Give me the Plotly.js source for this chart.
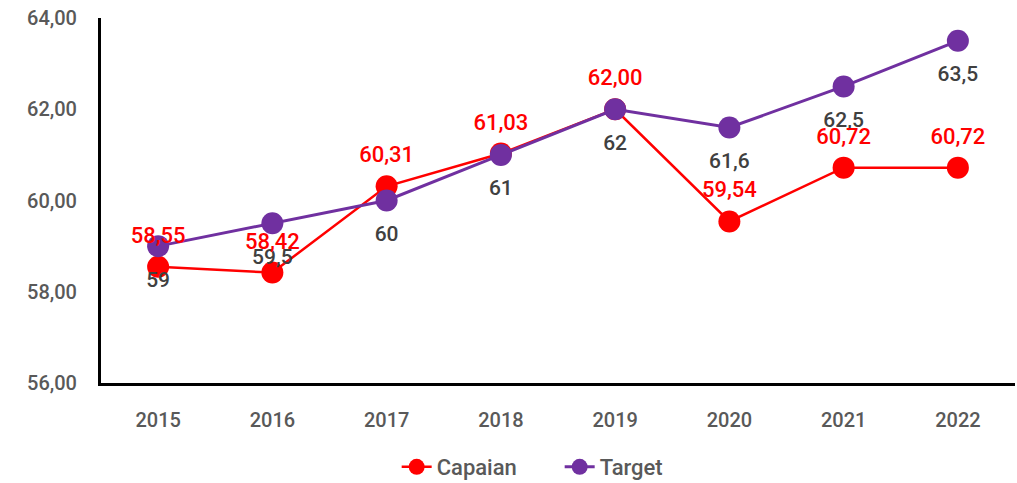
<!DOCTYPE html>
<html><head><meta charset="utf-8">
<script src="https://cdn.plot.ly/plotly-3.0.1.min.js"></script>
<style>html,body{margin:0;padding:0;background:#fff}#c{width:1017px;height:483px}</style>
</head><body><div id="c"></div>
<script>
const years = ['2015','2016','2017','2018','2019','2020','2021','2022'];
const capaian = [58.55, 58.42, 60.31, 61.03, 62.00, 59.54, 60.72, 60.72];
const target = [59, 59.5, 60, 61, 62, 61.6, 62.5, 63.5];
const FONT = 'Roboto, "Noto Sans", sans-serif';
const fmt2 = v => v.toFixed(2).replace('.', ',');
const fmtT = v => String(v).replace('.', ',');
const traces = [
  {x: years, y: capaian, name: 'Capaian', type: 'scatter', mode: 'lines+markers',
   line: {color: '#FF0000', width: 2.5}, marker: {color: '#FF0000', size: 22}, cliponaxis: false},
  {x: years, y: target, name: 'Target', type: 'scatter', mode: 'lines+markers',
   line: {color: '#7030A0', width: 3}, marker: {color: '#7030A0', size: 22}, cliponaxis: false},
  {x: years, y: target, type: 'scatter', mode: 'markers+text', showlegend: false, hoverinfo: 'skip',
   marker: {size: 38, color: 'rgba(0,0,0,0)'},
   text: target.map(fmtT), textposition: 'bottom center',
   textfont: {family: FONT, size: 21, color: '#404040', weight: 500}, cliponaxis: false},
  {x: years, y: capaian, type: 'scatter', mode: 'markers+text', showlegend: false, hoverinfo: 'skip',
   marker: {size: 28, color: 'rgba(0,0,0,0)'},
   text: capaian.map(fmt2), textposition: 'top center',
   textfont: {family: FONT, size: 22, color: '#FF0000', weight: 500}, cliponaxis: false}
];
const layout = {
  width: 1017, height: 483,
  margin: {l: 101, r: 2, t: 18, b: 100},
  paper_bgcolor: '#fff', plot_bgcolor: '#fff',
  separators: ',.',
  font: {family: FONT, color: '#595959', size: 20, weight: 500},
  showlegend: true,
  legend: {orientation: 'h', x: 0.3235, xanchor: 'left', yref: 'container', y: 0.033, yanchor: 'middle',
           entrywidth: 118, entrywidthmode: 'pixels',
           font: {family: FONT, size: 22, color: '#595959', weight: 500}},
  xaxis: {type: 'category', range: [-0.5, 7.5], showgrid: false, zeroline: false,
          showline: true, linecolor: '#000', linewidth: 3, ticks: '',
          ticklabelstandoff: 17, tickfont: {family: FONT, size: 20, color: '#595959', weight: 500}},
  yaxis: {range: [56, 64], dtick: 2, tick0: 56, tickformat: '.2f', showgrid: false,
          zeroline: false, showline: true, linecolor: '#000', linewidth: 3, ticks: '',
          ticklabelstandoff: 17, tickfont: {family: FONT, size: 20, color: '#595959', weight: 500}}
};
Plotly.newPlot('c', traces, layout, {displayModeBar: false, staticPlot: true});
</script></body></html>
